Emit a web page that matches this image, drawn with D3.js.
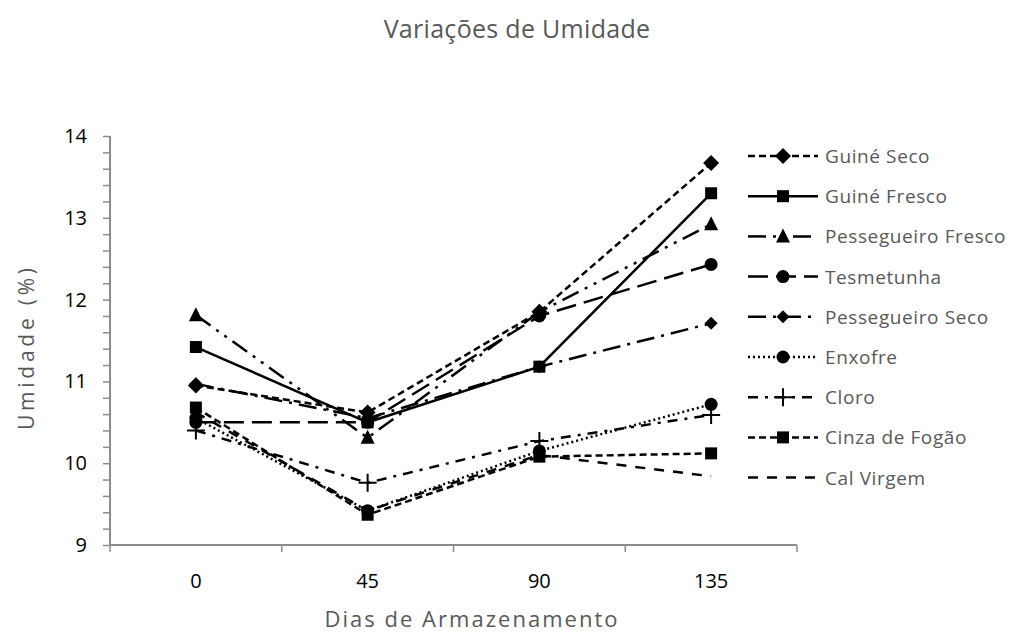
<!DOCTYPE html>
<html><head><meta charset="utf-8">
<script src="https://cdn.jsdelivr.net/npm/d3@7"></script>
<style>body{margin:0;background:#fff;} svg{display:block;} text{font-family:"Open Sans",sans-serif;fill:#595959;}</style>
</head><body><svg id="c" width="1011" height="637"></svg>
<script>
const categories = ["0","45","90","135"];
const seriesNames = ["Guiné Seco","Guiné Fresco","Pessegueiro Fresco","Tesmetunha","Pessegueiro Seco","Enxofre","Cloro","Cinza de Fogão","Cal Virgem"];
const guineSeco = [10.95, 10.62, 11.85, 13.67];
const guineFresco = [11.42, 10.50, 11.18, 13.30];
const pessegueiroFresco = [11.81, 10.31, 11.85, 12.92];
const tesmetunha = [10.50, 10.50, 11.80, 12.43];
const pessegueiroSeco = [10.97, 10.55, 11.18, 11.71];
const enxofre = [10.55, 9.42, 10.15, 10.72];
const cloro = [10.40, 9.76, 10.27, 10.59];
const cinzaFogao = [10.68, 9.37, 10.08, 10.12];
const calVirgem = [10.62, 9.42, 10.10, 9.84];
const yTicks = [9,10,11,12,13,14];

const values = [guineSeco, guineFresco, pessegueiroFresco, tesmetunha, pessegueiroSeco, enxofre, cloro, cinzaFogao, calVirgem];
const dashes = ["7,4", null, "18,7,3,7,3,7", "20,8", "18,7,3,7", "2,3", "10,7,3,7", "7,4", "10,9"];
const markers = ["diamond","square","triangle","circle","diamondSmall","circle","plus","square",null];

const svg = d3.select("#c");
const x = d3.scaleBand().domain(categories).range([110, 797]);
const y = d3.scaleLinear().domain([9,14]).range([545, 136]);
const axisColor = "#8c8c8c";

// title
svg.append("text").attr("x", 517).attr("y", 38).attr("text-anchor","middle").style("font-size","25px").style("letter-spacing","0.3px").text("Variações de Umidade");

// y axis
const yAxis = svg.append("g").attr("transform","translate(110,0)")
  .call(d3.axisLeft(y).tickValues(d3.range(9,14.01,0.2)).tickSize(7).tickFormat(""));
yAxis.selectAll("line").attr("stroke", axisColor).attr("stroke-width",1.5);
yAxis.select(".domain").attr("stroke", axisColor).attr("stroke-width",2).attr("d","M0,545V136");
svg.append("g").selectAll("text").data(yTicks).join("text")
  .attr("x", 87).attr("y", d=>y(d)+7).attr("text-anchor","end").style("font-size","20px").style("fill","#000").text(d=>d);

// x axis
const xAxis = svg.append("g").attr("transform","translate(0,545)")
  .call(d3.axisBottom(x).tickSize(0).tickFormat(""));
xAxis.select(".domain").attr("stroke", axisColor).attr("stroke-width",2).attr("d","M110,0H797");
const bounds = categories.map(c=>x(c)).concat([x.range()[1]]);
svg.append("g").selectAll("line").data(bounds).join("line")
  .attr("x1",d=>d).attr("x2",d=>d).attr("y1",545).attr("y2",552).attr("stroke",axisColor).attr("stroke-width",1.5);
svg.append("g").selectAll("text").data(categories).join("text")
  .attr("x", d=>x(d)+x.bandwidth()/2).attr("y", 588).attr("text-anchor","middle").style("font-size","20px").style("fill","#000").text(d=>d);

svg.append("text").attr("x", 471).attr("y", 627).attr("text-anchor","middle").style("font-size","22px").attr("textLength",293).attr("lengthAdjust","spacing").text("Dias de Armazenamento");
svg.append("text").attr("transform","translate(34,349) rotate(-90)").attr("text-anchor","middle").style("font-size","21px").attr("textLength",162).attr("lengthAdjust","spacing").text("Umidade (%)");

function drawMarker(g, type, cx, cy) {
  if (!type) return;
  if (type === "square") g.append("rect").attr("x",cx-6).attr("y",cy-6).attr("width",12).attr("height",12).attr("fill","#000");
  else if (type === "diamond") g.append("path").attr("d",`M${cx},${cy-8}L${cx+8},${cy}L${cx},${cy+8}L${cx-8},${cy}Z`).attr("fill","#000");
  else if (type === "diamondSmall") g.append("path").attr("d",`M${cx},${cy-6.5}L${cx+6.5},${cy}L${cx},${cy+6.5}L${cx-6.5},${cy}Z`).attr("fill","#000");
  else if (type === "triangle") g.append("path").attr("d",`M${cx},${cy-8}L${cx+7},${cy+6}L${cx-7},${cy+6}Z`).attr("fill","#000");
  else if (type === "circle") g.append("circle").attr("cx",cx).attr("cy",cy).attr("r",6.5).attr("fill","#000");
  else if (type === "plus") { g.append("path").attr("d",`M${cx-9},${cy}H${cx+9}M${cx},${cy-9}V${cy+9}`).attr("stroke","#000").attr("stroke-width",2); }
}

const line = d3.line().x((d,i)=>x(categories[i])+x.bandwidth()/2).y(d=>y(d));
const plot = svg.append("g");
for (let s = seriesNames.length-1; s >= 0; s--) {
  const p = plot.append("path").datum(values[s]).attr("d", line).attr("fill","none").attr("stroke","#000").attr("stroke-width",2.5);
  if (dashes[s]) p.attr("stroke-dasharray", dashes[s]);
  values[s].forEach((v,i)=>drawMarker(plot, markers[s], x(categories[i])+x.bandwidth()/2, y(v)));
}

// legend
const leg = svg.append("g");
seriesNames.forEach((n,i)=>{
  const yy = 156 + i*40.2;
  const l = leg.append("line").attr("x1",748).attr("x2",818).attr("y1",yy).attr("y2",yy).attr("stroke","#000").attr("stroke-width",2.5);
  if (dashes[i]) l.attr("stroke-dasharray", dashes[i]);
  drawMarker(leg, markers[i], 783, yy);
  leg.append("text").attr("x",825).attr("y",yy+7).style("font-size","19px").style("letter-spacing","0.6px").text(n);
});
</script></body></html>
